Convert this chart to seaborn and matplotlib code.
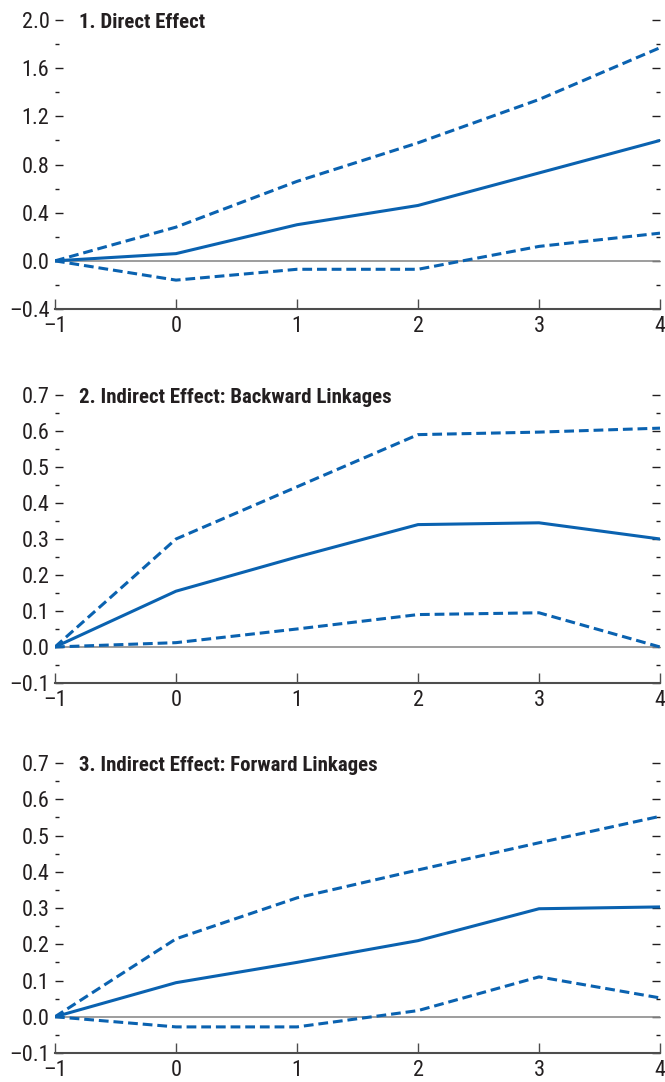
import numpy as np
import pandas as pd
import matplotlib
matplotlib.use("Agg")
import matplotlib.pyplot as plt
import seaborn as sns
from matplotlib import font_manager
from matplotlib.ticker import MultipleLocator, FuncFormatter

horizon = [-1, 0, 1, 2, 3, 4]

titles = ["1. Direct Effect",
          "2. Indirect Effect: Backward Linkages",
          "3. Indirect Effect: Forward Linkages"]

direct_mid = [0.0, 0.06, 0.30, 0.46, 0.73, 1.00]
direct_hi = [0.0, 0.28, 0.66, 0.98, 1.34, 1.77]
direct_lo = [0.0, -0.16, -0.07, -0.07, 0.12, 0.23]

back_mid = [0.0, 0.155, 0.25, 0.34, 0.345, 0.30]
back_hi = [0.0, 0.30, 0.445, 0.59, 0.597, 0.608]
back_lo = [0.0, 0.012, 0.05, 0.09, 0.095, 0.0]

fwd_mid = [0.0, 0.094, 0.15, 0.21, 0.298, 0.303]
fwd_hi = [0.0, 0.215, 0.328, 0.405, 0.48, 0.553]
fwd_lo = [0.0, -0.028, -0.028, 0.017, 0.11, 0.052]

ylims = [(-0.4, 2.0), (-0.1, 0.7), (-0.1, 0.7)]
ymajor = [0.4, 0.1, 0.1]

sns.set_style("ticks")
available = {f.name for f in font_manager.fontManager.ttflist}
main_font = "DejaVu Sans"
for cand in ["Liberation Sans Narrow", "Roboto Condensed", "Open Sans Condensed",
             "Liberation Sans", "Roboto"]:
    if cand in available:
        main_font = cand
        break
narrow = "Narrow" in main_font or "Condensed" in main_font
plt.rcParams['font.family'] = [main_font, 'DejaVu Sans']

BLUE = "#0A62B0"
TXT = "#231F20"
tick_fs = 16 if narrow else 13.5
title_fs = 15 if narrow else 12.5

fig = plt.figure(figsize=(6.65, 10.82), dpi=100)
positions = [(0.0827, 0.7144, 0.9098, 0.2671),
             (0.0827, 0.3688, 0.9098, 0.2661),
             (0.0827, 0.0268, 0.9098, 0.2680)]

series = [(direct_mid, direct_hi, direct_lo),
          (back_mid, back_hi, back_lo),
          (fwd_mid, fwd_hi, fwd_lo)]

for i, (mid, hi, lo) in enumerate(series):
    ax = fig.add_axes(positions[i])
    df = pd.DataFrame({"h": horizon * 3,
                       "v": mid + hi + lo,
                       "s": ["mid"] * 6 + ["hi"] * 6 + ["lo"] * 6})
    ax.axhline(0, color="#8C8C8C", lw=1.2, zorder=1)
    sns.lineplot(data=df[df.s == "mid"], x="h", y="v", ax=ax, color=BLUE, lw=2.2, zorder=3)
    sns.lineplot(data=df[df.s == "hi"], x="h", y="v", ax=ax, color=BLUE, lw=2.2,
                 linestyle=(0, (3.2, 1.6)), zorder=3)
    sns.lineplot(data=df[df.s == "lo"], x="h", y="v", ax=ax, color=BLUE, lw=2.2,
                 linestyle=(0, (3.2, 1.6)), zorder=3)
    ax.set_xlim(-1, 4)
    ax.set_ylim(*ylims[i])
    ax.set_xlabel("")
    ax.set_ylabel("")
    ax.set_xticks(horizon)
    ax.set_xticklabels(["\u20131", "0", "1", "2", "3", "4"])
    ax.yaxis.set_major_locator(MultipleLocator(ymajor[i]))
    ax.yaxis.set_minor_locator(MultipleLocator(ymajor[i] / 2))
    ax.yaxis.set_major_formatter(FuncFormatter(
        lambda v, p: ("\u2013" if v < -1e-9 else "") + f"{abs(v):.1f}"))
    for s in ["left", "right", "top"]:
        ax.spines[s].set_visible(False)
    ax.spines["bottom"].set_color("#4D4D4D")
    ax.spines["bottom"].set_linewidth(1.5)
    ax.tick_params(axis="y", which="major", direction="in", length=6, width=1.0,
                   color=TXT, left=True, right=True, labelleft=True, labelright=False,
                   labelsize=tick_fs, labelcolor=TXT, pad=4)
    ax.tick_params(axis="y", which="minor", direction="in", length=3, width=1.0,
                   color=TXT, left=True, right=True)
    ax.tick_params(axis="x", which="major", direction="in", length=7, width=1.0,
                   color="#4D4D4D", labelsize=tick_fs, labelcolor=TXT, pad=5)
    ax.text(0.04, 0.99, titles[i], transform=ax.transAxes, ha="left", va="center",
            fontsize=title_fs, fontweight="bold", color=TXT)
    ax.patch.set_alpha(0)

fig.savefig("out.png", dpi=100)
